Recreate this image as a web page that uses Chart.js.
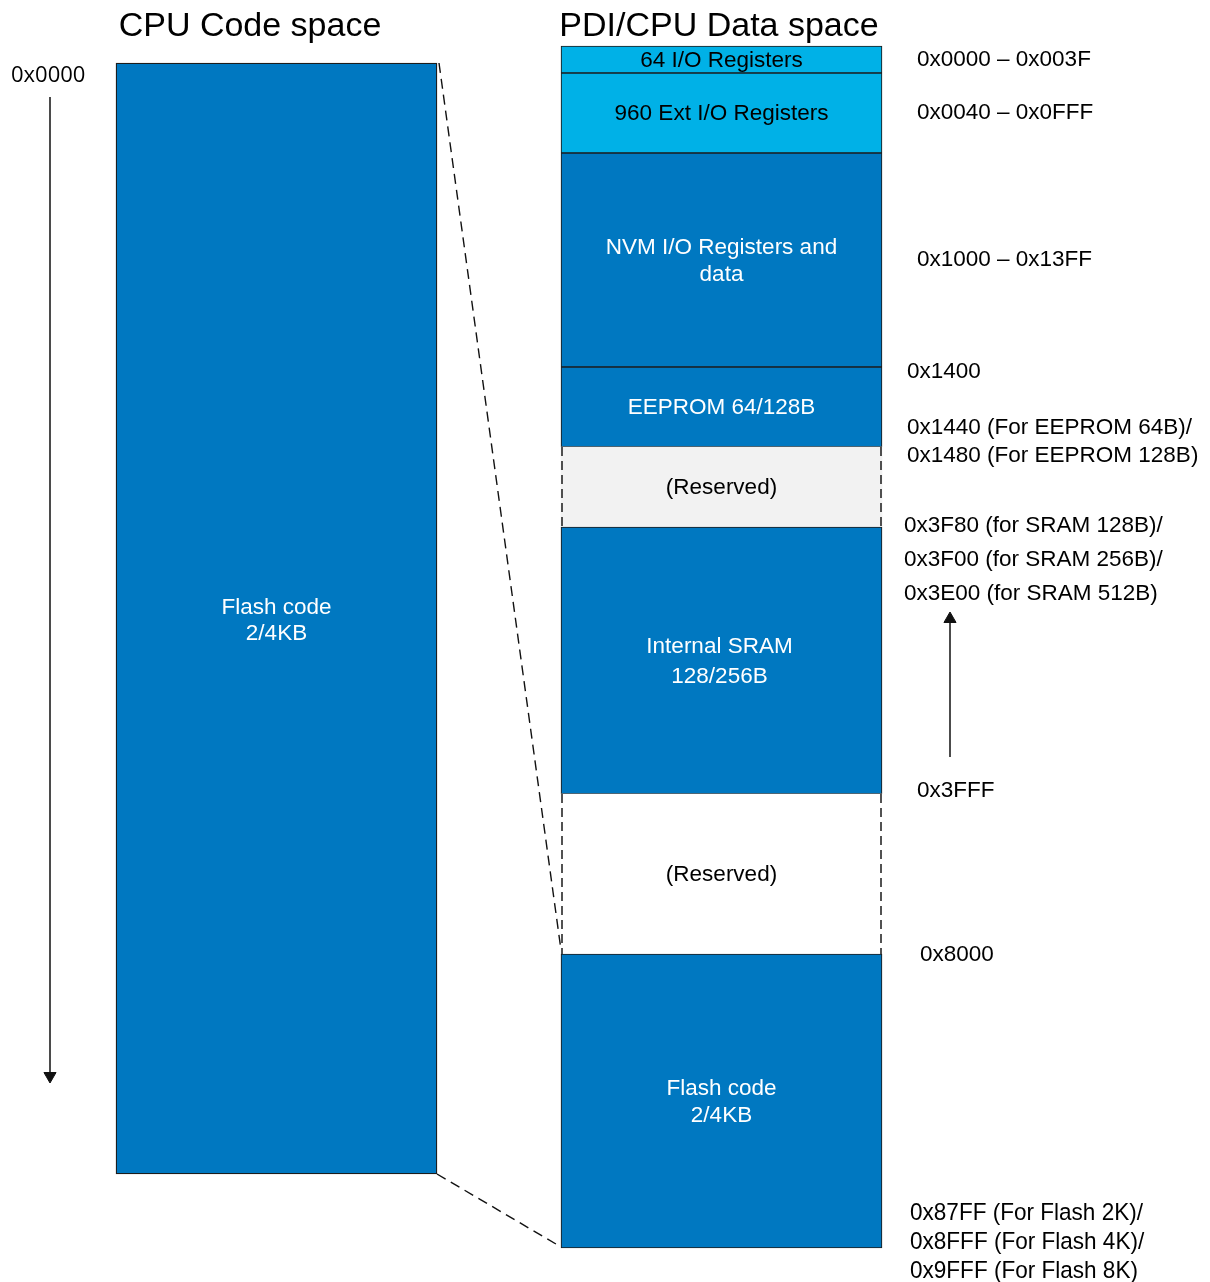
<!DOCTYPE html>
<html>
<head>
<meta charset="utf-8">
<script src="https://cdn.jsdelivr.net/npm/chart.js@4.4.0/dist/chart.umd.min.js"></script>
<style>
  html, body { margin: 0; padding: 0; background: #fff; }
  #wrap { width: 1210px; height: 1282px; }
</style>
</head>
<body>
<div id="wrap"><canvas id="memMap" width="1210" height="1282"></canvas></div>
<script>
// column titles
const titles = ['CPU Code space', 'PDI/CPU Data space'];

// code space (left column), edges top -> bottom in diagram units
const codeNames = ['Flash code\n2/4KB'];
const codeEdges = [63, 1174];
const codeStart = '0x0000';

// data space (right column)
const dataNames = ['64 I/O Registers', '960 Ext I/O Registers', 'NVM I/O Registers and\ndata', 'EEPROM 64/128B',
  '(Reserved)', 'Internal SRAM\n128/256B', '(Reserved)', 'Flash code\n2/4KB'];
const dataEdges = [46, 73, 153, 367, 447, 527, 794, 954, 1248];
const dataKinds = ['io', 'io', 'mem', 'mem', 'gap', 'mem', 'hole', 'mem'];

// address labels next to the data column
const addrLabels = ['0x0000 – 0x003F', '0x0040 – 0x0FFF', '0x1000 – 0x13FF', '0x1400',
  '0x1440 (For EEPROM 64B)/', '0x1480 (For EEPROM 128B)',
  '0x3F80 (for SRAM 128B)/', '0x3F00 (for SRAM 256B)/', '0x3E00 (for SRAM 512B)',
  '0x3FFF', '0x8000'];
const addrRows = [59, 112, 259, 371, 427, 455, 525, 559, 593, 790, 954];
const flashEndLabels = ['0x87FF (For Flash 2K)/', '0x8FFF (For Flash 4K)/', '0x9FFF (For Flash 8K)'];
const flashEndRows = [1212, 1241, 1270];

// layout
const W = 1210, H = 1282;
const CODE_X = 276.5, DATA_X = 721.5, COL_W = 321;
const addrX = [917, 917, 917, 907, 907, 907, 904, 904, 904, 917, 920];
const fills = { io: '#00b1e7', mem: '#0078c1', gap: '#f2f2f2', hole: '#ffffff' };
const edgeCol = '#1c1c1c';
const sans = '"Liberation Sans", Arial, sans-serif';

const noBorder = { top: 0, bottom: 0, left: 0, right: 0 };

// dashed side lines for the reserved blocks
const sideLines = [];
dataKinds.forEach((k, i) => {
  if (k !== 'gap' && k !== 'hole') return;
  [DATA_X - COL_W / 2 + 1, DATA_X + COL_W / 2 - 1].forEach(px => {
    sideLines.push({
      type: 'line',
      data: [{ x: px, y: dataEdges[i] }, { x: px, y: dataEdges[i + 1] }],
      borderColor: '#1a1a1a', borderWidth: 1.5, borderDash: [9, 5],
      pointRadius: 0, order: 1
    });
  });
});

// zoom lines from code flash to data flash
const zoomLines = [
  [{ x: CODE_X + COL_W / 2 + 2, y: codeEdges[0] }, { x: DATA_X - COL_W / 2, y: dataEdges[7] - 4 }],
  [{ x: CODE_X + COL_W / 2, y: codeEdges[1] }, { x: DATA_X - COL_W / 2, y: dataEdges[8] - 1 }]
].map(pts => ({
  type: 'line', data: pts, borderColor: '#111', borderWidth: 1.4, borderDash: [10, 6],
  pointRadius: 0, order: 1
}));

// direction arrows
const arrows = [
  { from: 97, to: 1076, x: 50, rot: 180 },
  { from: 757, to: 619, x: 950, rot: 0 }
].map(a => ({
  type: 'line',
  data: [{ x: a.x, y: a.from }, { x: a.x, y: a.to }],
  borderColor: '#111', borderWidth: 1.5,
  pointStyle: 'triangle', pointRadius: [0, 7], pointRotation: [0, a.rot],
  pointBackgroundColor: '#111', pointBorderColor: '#111', pointBorderWidth: 1,
  order: 1
}));

function drawLines(ctx, text, x, y, lh) {
  const parts = text.split('\n');
  const y0 = y - (parts.length - 1) * lh / 2;
  parts.forEach((p, i) => ctx.fillText(p, x, y0 + i * lh));
}

const textPlugin = {
  id: 'mapText',
  afterDatasetsDraw(chart) {
    const { ctx, scales: { x, y } } = chart;
    ctx.save();
    ctx.textBaseline = 'middle';

    // titles
    ctx.fillStyle = '#000';
    ctx.textAlign = 'center';
    ctx.font = '34px ' + sans;
    ctx.fillText(titles[0], 250, 27);
    ctx.fillText(titles[1], 719, 27);

    // block names
    ctx.font = '22.5px ' + sans;
    codeNames.forEach((n, i) => {
      ctx.fillStyle = '#fff';
      drawLines(ctx, n, x.getPixelForValue(CODE_X),
        y.getPixelForValue((codeEdges[i] + codeEdges[i + 1]) / 2) + 2, 26);
    });
    dataNames.forEach((n, i) => {
      ctx.fillStyle = dataKinds[i] === 'mem' ? '#fff' : '#000';
      const lh = n.startsWith('Internal') ? 30 : 27;
      const dx = n.startsWith('Internal') ? -2 : 0;
      drawLines(ctx, n, x.getPixelForValue(DATA_X) + dx,
        y.getPixelForValue((dataEdges[i] + dataEdges[i + 1]) / 2) + 1, lh);
    });

    // addresses
    ctx.fillStyle = '#000';
    ctx.textAlign = 'left';
    ctx.font = '22.5px ' + sans;
    addrLabels.forEach((t, i) => ctx.fillText(t, addrX[i], y.getPixelForValue(addrRows[i]) + 1));

    // condensed lines at the bottom
    ctx.font = '24.5px ' + sans;
    flashEndLabels.forEach((t, i) => {
      ctx.save();
      ctx.translate(910, y.getPixelForValue(flashEndRows[i]) + 1);
      ctx.scale(0.92, 1);
      ctx.fillText(t, 0, 0);
      ctx.restore();
    });

    ctx.font = '22px "Open Sans", ' + sans;
    ctx.fillText(codeStart, 11, y.getPixelForValue(76));
    ctx.restore();
  }
};

new Chart(document.getElementById('memMap'), {
  type: 'bar',
  data: {
    datasets: [
      {
        label: 'Code space',
        data: codeNames.map((n, i) => ({ x: CODE_X, y: [codeEdges[i], codeEdges[i + 1]] })),
        backgroundColor: fills.mem,
        borderColor: edgeCol, borderWidth: 1.3, borderSkipped: false,
        order: 3
      },
      {
        label: 'Data space',
        data: dataNames.map((n, i) => ({ x: DATA_X, y: [dataEdges[i], dataEdges[i + 1]] })),
        backgroundColor: dataKinds.map(k => fills[k]),
        borderColor: edgeCol,
        borderWidth: dataKinds.map(k => (k === 'gap' || k === 'hole') ? noBorder : 1.1),
        borderSkipped: false,
        order: 3
      },
      ...sideLines,
      ...zoomLines,
      ...arrows
    ]
  },
  options: {
    responsive: false,
    animation: false,
    events: [],
    grouped: false,
    categoryPercentage: 1,
    barPercentage: 1,
    maxBarThickness: COL_W,
    layout: { padding: 0, autoPadding: false },
    plugins: { legend: { display: false }, tooltip: { enabled: false } },
    scales: {
      x: { type: 'linear', min: 0, max: W, offset: false, display: false, ticks: { stepSize: W } },
      y: { type: 'linear', min: 0, max: H, reverse: true, display: false }
    }
  },
  plugins: [textPlugin]
});
</script>
</body>
</html>
